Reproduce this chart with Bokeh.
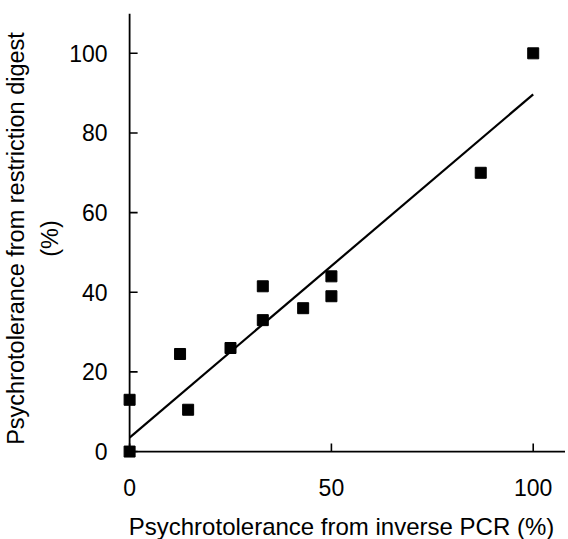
from bokeh.plotting import figure
from bokeh.models import Range1d, FixedTicker
from bokeh.embed import file_html
from bokeh.resources import INLINE

# data
pcr_pct = [0, 0, 12.5, 14.5, 25, 33, 33, 43, 50, 50, 87, 100]
digest_pct = [0, 13, 24.5, 10.5, 26, 33, 41.5, 36, 44, 39, 70, 100]
fit_x = [0, 100]
fit_y = [3.5, 89.7]
x_ticks = [0, 50, 100]
y_ticks = [0, 20, 40, 60, 80, 100]

FONT = "Liberation Sans"
X0, X1 = -3, 108
Y0, Y1 = -3, 110
FW, FH = 448, 450
TICK_PX = 8

p = figure(
    output_backend="svg", toolbar_location=None,
    frame_width=FW, frame_height=FH,
    x_range=Range1d(X0, X1), y_range=Range1d(Y0, Y1),
    min_border_left=110, min_border_top=13, min_border_right=0, min_border_bottom=66,
)
p.outline_line_color = None
p.xgrid.visible = False
p.ygrid.visible = False

# axis lines at the data origin, with inward ticks
p.segment(x0=[0, 0], y0=[0, 0], x1=[0, X1], y1=[Y1, 0], line_color="black", line_width=1.8)
tx = TICK_PX * (X1 - X0) / FW
ty = TICK_PX * (Y1 - Y0) / FH
p.segment(x0=[0] * len(y_ticks), y0=y_ticks, x1=[tx] * len(y_ticks), y1=y_ticks,
          line_color="black", line_width=1.6)
p.segment(x0=x_ticks, y0=[0] * len(x_ticks), x1=x_ticks, y1=[ty] * len(x_ticks),
          line_color="black", line_width=1.6)

p.line(fit_x, fit_y, line_color="black", line_width=2.2)
p.scatter(pcr_pct, digest_pct, marker="square", size=11, fill_color="black", line_color="black")

for ax in (p.xaxis[0], p.yaxis[0]):
    ax.axis_line_color = None
    ax.major_tick_line_color = None
    ax.minor_tick_line_color = None
    ax.major_tick_in = 0
    ax.major_tick_out = 0
    ax.major_label_text_font = FONT
    ax.major_label_text_font_size = "23px"
    ax.major_label_text_color = "black"
    ax.axis_label_text_font = FONT
    ax.axis_label_text_font_style = "normal"
    ax.axis_label_text_color = "black"

p.xaxis.axis_label_text_font_size = "24px"
p.yaxis.axis_label_text_font_size = "23.5px"
p.yaxis.axis_label_text_line_height = 1.3
p.xaxis.ticker = FixedTicker(ticks=x_ticks)
p.yaxis.ticker = FixedTicker(ticks=y_ticks)
p.xaxis.axis_label = "Psychrotolerance from inverse PCR (%)"
p.yaxis.axis_label = "Psychrotolerance from restriction digest\n(%)"
p.xaxis.major_label_standoff = 15
p.yaxis.major_label_standoff = 10
p.xaxis.axis_label_standoff = 14
p.yaxis.axis_label_standoff = 3

open("out.html", "w").write(file_html(p, INLINE))
